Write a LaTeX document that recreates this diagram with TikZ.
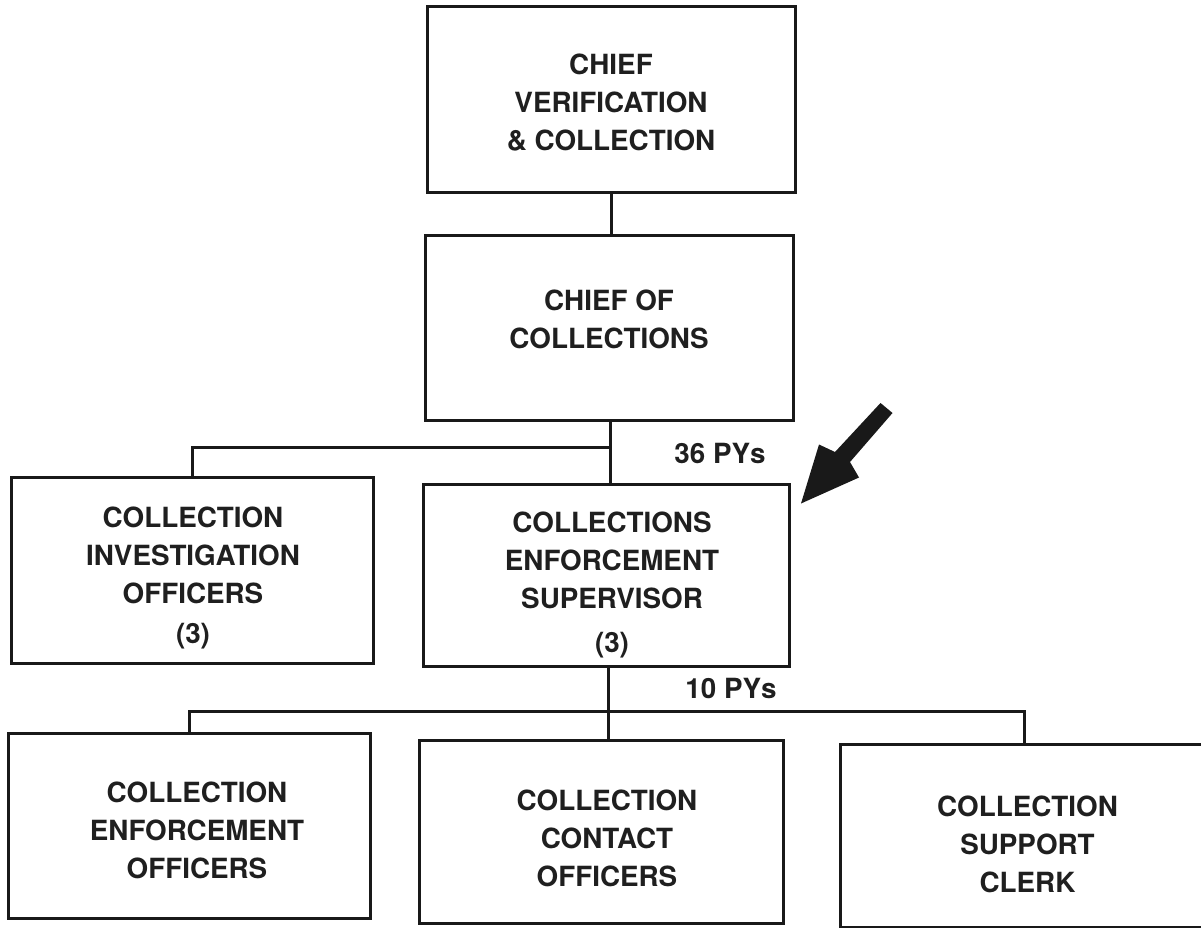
\documentclass[tikz,border=0pt]{standalone}
\usepackage{fontspec}
\setmainfont{TeX Gyre Heros}
\begin{document}
\begin{tikzpicture}[x=1pt,y=-1pt,
  box/.style={draw=black!90, rectangle, inner sep=0pt, line width=3pt},
  lab/.style={font=\bfseries\fontsize{27.8}{38}\selectfont, align=center, text=black!88, inner sep=0pt},
  conn/.style={draw=black!90, line width=3pt}]
\clip (0,0) rectangle (1201,928);
\fill[white] (0,0) rectangle (1201,928);

\node[box, minimum width=368pt, minimum height=186pt,
  label={[lab, yshift=-3pt]center:CHIEF\\VERIFICATION\\\& COLLECTION}] (chief) at (611,100) {};
\node[box, minimum width=368pt, minimum height=185pt,
  label={[lab, yshift=8pt]center:CHIEF OF\\COLLECTIONS}] (coll) at (609,327.5) {};
\node[box, minimum width=362pt, minimum height=186pt,
  label={[lab, yshift=-8pt, xshift=1pt]center:COLLECTION\\INVESTIGATION\\OFFICERS\\[2pt](3)}] (inv) at (192,570) {};
\node[box, minimum width=366pt, minimum height=182pt,
  label={[lab, yshift=-10pt, xshift=6pt]center:COLLECTIONS\\ENFORCEMENT\\SUPERVISOR\\[6pt](3)}] (sup) at (606,575) {};
\node[box, minimum width=362pt, minimum height=185pt,
  label={[lab, yshift=-4.5pt, xshift=8pt]center:COLLECTION\\ENFORCEMENT\\OFFICERS}] (bl) at (189,825.5) {};
\node[box, minimum width=364pt, minimum height=183pt,
  label={[lab, yshift=-6.5pt, xshift=6pt]center:COLLECTION\\CONTACT\\OFFICERS}] (bc) at (601,831.5) {};
\node[box, minimum width=375pt, minimum height=183pt,
  label={[lab, yshift=-8.5pt, xshift=0pt]center:COLLECTION\\SUPPORT\\CLERK}] (br) at (1027.5,835.5) {};

\node[lab] (py36) at (720,453) {36 PYs};
\node[lab] (py10) at (731,688) {10 PYs};

% connectors
\coordinate (j1) at (610,447);
\coordinate (j2) at (608,711);
\coordinate (b3) at (1024,711);
\draw[conn] (chief.south) -- (chief.south |- coll.north);
\draw[conn] (coll.south -| j1) -- (j1 |- sup.north);
\draw[conn] (j1) -| (inv.north);
\draw[conn] (sup.south -| j2) -- (j2 |- bc.north);
\draw[conn] (bl.north) |- (b3) -- (b3 |- br.north);

% pointer arrow
\coordinate (tip) at (801,503.5);
\fill[black!90] (tip) -- (859,477.5) -- (850,462) -- (892.5,413)
  -- (880.5,403) -- (835,452) -- (819,444.5) -- cycle;
\end{tikzpicture}
\end{document}
